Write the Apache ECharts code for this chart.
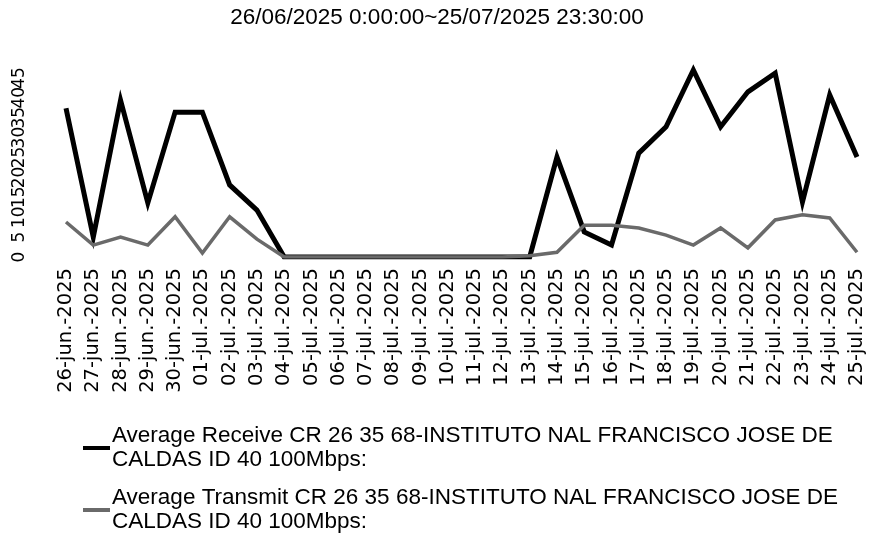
<!DOCTYPE html>
<html>
<head>
<meta charset="utf-8">
<script src="https://cdn.jsdelivr.net/npm/echarts@6/dist/echarts.min.js"></script>
<style>
  html, body { margin: 0; padding: 0; background: #fff; }
  #chart { width: 874px; height: 545px; }
</style>
</head>
<body>
<div id="chart"></div>
<script>
// Daily dates of the reporting period
const dates = [
  '26-jun.-2025', '27-jun.-2025', '28-jun.-2025', '29-jun.-2025', '30-jun.-2025',
  '01-jul.-2025', '02-jul.-2025', '03-jul.-2025', '04-jul.-2025', '05-jul.-2025',
  '06-jul.-2025', '07-jul.-2025', '08-jul.-2025', '09-jul.-2025', '10-jul.-2025',
  '11-jul.-2025', '12-jul.-2025', '13-jul.-2025', '14-jul.-2025', '15-jul.-2025',
  '16-jul.-2025', '17-jul.-2025', '18-jul.-2025', '19-jul.-2025', '20-jul.-2025',
  '21-jul.-2025', '22-jul.-2025', '23-jul.-2025', '24-jul.-2025', '25-jul.-2025'
];

// Average receive traffic (Mbps)
const receive = [
  37.4, 5.0, 39.4, 13.6, 36.4,
  36.4, 18.1, 11.8, 0, 0,
  0, 0, 0, 0, 0,
  0, 0, 0, 25.1, 6.3,
  3.0, 26.1, 32.7, 47.0, 32.7,
  41.5, 46.2, 13.8, 40.7, 25.1
];

// Average transmit traffic (Mbps)
const transmit = [
  8.8, 3.0, 5.0, 3.0, 10.1,
  1.0, 10.1, 4.5, 0, 0,
  0, 0, 0, 0, 0,
  0, 0, 0.3, 1.2, 8.0,
  8.0, 7.3, 5.5, 3.0, 7.3,
  2.3, 9.3, 10.6, 9.8, 1.2
];

const periodTitle = '26/06/2025 0:00:00~25/07/2025 23:30:00';
const receiveName = 'Average Receive CR 26 35 68-INSTITUTO NAL FRANCISCO JOSE DE\nCALDAS ID 40 100Mbps:';
const transmitName = 'Average Transmit CR 26 35 68-INSTITUTO NAL FRANCISCO JOSE DE\nCALDAS ID 40 100Mbps:';

const yMin = 0, yMax = 50, yStep = 5;

const chart = echarts.init(document.getElementById('chart'), null, { renderer: 'canvas' });

chart.setOption({
  backgroundColor: '#ffffff',
  animation: false,
  title: {
    text: periodTitle,
    left: 'center',
    top: 1,
    textStyle: {
      fontFamily: 'Liberation Sans, Arial, sans-serif',
      fontSize: 22.5,
      fontWeight: 'normal',
      color: '#000'
    }
  },
  grid: { left: 66, right: 17, top: 58, bottom: 288, containLabel: false },
  legend: {
    orient: 'vertical',
    left: 78,
    top: 419,
    itemWidth: 27,
    itemHeight: 4,
    itemGap: 14,
    icon: 'rect',
    textStyle: {
      fontFamily: 'Liberation Sans, Arial, sans-serif',
      fontSize: 22.5,
      lineHeight: 24,
      color: '#000',
      padding: [0, 0, 0, -3]
    },
    data: [receiveName, transmitName]
  },
  xAxis: {
    type: 'category',
    data: dates,
    boundaryGap: false,
    axisLine: { show: false },
    axisTick: { show: false },
    splitLine: { show: false },
    axisLabel: {
      interval: 0,
      rotate: 90,
      margin: 11,
      fontFamily: 'DejaVu Sans, sans-serif',
      fontSize: 19.5,
      color: '#000'
    }
  },
  yAxis: {
    type: 'value',
    min: yMin,
    max: yMax,
    interval: yStep,
    axisLine: { show: false },
    axisTick: { show: false },
    splitLine: { show: false },
    axisLabel: {
      rotate: 90,
      margin: 38,
      fontFamily: 'DejaVu Sans, sans-serif',
      fontSize: 17,
      color: '#000'
    }
  },
  series: [
    {
      name: receiveName,
      type: 'line',
      data: receive,
      showSymbol: false,
      color: '#000000',
      lineStyle: { width: 5, color: '#000000', join: 'miter' }
    },
    {
      name: transmitName,
      type: 'line',
      data: transmit,
      showSymbol: false,
      color: '#6a6a6a',
      lineStyle: { width: 3.5, color: '#6a6a6a', join: 'miter' }
    }
  ]
});
</script>
</body>
</html>
